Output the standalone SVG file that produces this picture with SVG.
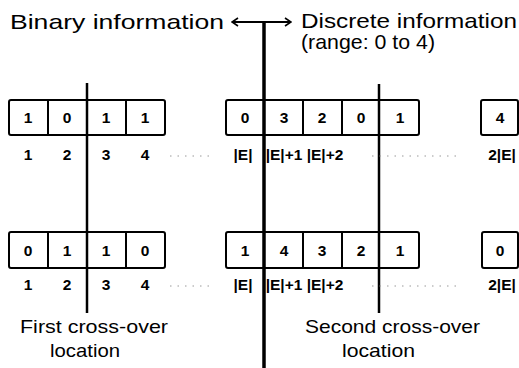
<svg xmlns="http://www.w3.org/2000/svg" width="519" height="368" viewBox="0 0 519 368">
<style>
.t{font-family:"Liberation Sans",Arial,sans-serif;fill:#000}
.big{font-size:21px}
.bot{font-size:18.5px}
.d{font-size:15.5px;font-weight:bold;text-anchor:middle}
.box{fill:#fff;stroke:#000;stroke-width:2}
.div{stroke:#000;stroke-width:2}
.ln{stroke:#000;fill:none}
.dot{stroke:#999;stroke-width:1;stroke-dasharray:1.5 6}
</style>
<defs>
<marker id="ah" viewBox="0 0 10 10" refX="9" refY="5" markerWidth="10" markerHeight="10" markerUnits="userSpaceOnUse" orient="auto-start-reverse">
<polyline points="3,1 9,5 3,9" fill="none" stroke="#000" stroke-width="1.6"/>
</marker>
</defs>
<g id="titles">
<text class="t big" x="10" y="29" textLength="214" lengthAdjust="spacingAndGlyphs">Binary information</text>
<text class="t big" x="301" y="28" textLength="216" lengthAdjust="spacingAndGlyphs">Discrete information</text>
<text class="t big" x="301" y="49" textLength="134" lengthAdjust="spacingAndGlyphs">(range: 0 to 4)</text>
</g>
<g id="row1-binary">
<rect class="box" x="9" y="100" width="156" height="35" rx="2"/>
<line class="div" x1="48" y1="100" x2="48" y2="135"/>
<line class="div" x1="126" y1="100" x2="126" y2="135"/>
<text class="t d" x="28" y="123">1</text><text class="t d" x="67" y="123">0</text><text class="t d" x="106" y="123">1</text><text class="t d" x="145" y="123">1</text>
<text class="t d" x="28" y="160">1</text><text class="t d" x="67" y="160">2</text><text class="t d" x="106" y="160">3</text><text class="t d" x="145" y="160">4</text>
</g>
<g id="row1-discrete">
<rect class="box" x="226" y="100" width="193" height="35" rx="2"/>
<line class="div" x1="303" y1="100" x2="303" y2="135"/>
<line class="div" x1="342" y1="100" x2="342" y2="135"/>
<text class="t d" x="245" y="123">0</text><text class="t d" x="284" y="123">3</text><text class="t d" x="322" y="123">2</text><text class="t d" x="361" y="123">0</text><text class="t d" x="400" y="123">1</text>
<text class="t d" x="243" y="160">|E|</text><text class="t d" x="284" y="160">|E|+1</text><text class="t d" x="325" y="160">|E|+2</text>
</g>
<g id="row1-last">
<rect class="box" x="481" y="100" width="37" height="35" rx="2"/>
<text class="t d" x="500" y="123">4</text>
<text class="t d" x="502" y="160">2|E|</text>
</g>
<g id="row2-binary">
<rect class="box" x="9" y="232" width="156" height="36" rx="2"/>
<line class="div" x1="48" y1="232" x2="48" y2="268"/>
<line class="div" x1="126" y1="232" x2="126" y2="268"/>
<text class="t d" x="28" y="256">0</text><text class="t d" x="67" y="256">1</text><text class="t d" x="106" y="256">1</text><text class="t d" x="145" y="256">0</text>
<text class="t d" x="28" y="290">1</text><text class="t d" x="67" y="290">2</text><text class="t d" x="106" y="290">3</text><text class="t d" x="145" y="290">4</text>
</g>
<g id="row2-discrete">
<rect class="box" x="226" y="232" width="193" height="36" rx="2"/>
<line class="div" x1="303" y1="232" x2="303" y2="268"/>
<line class="div" x1="342" y1="232" x2="342" y2="268"/>
<text class="t d" x="245" y="256">1</text><text class="t d" x="284" y="256">4</text><text class="t d" x="322" y="256">3</text><text class="t d" x="361" y="256">2</text><text class="t d" x="400" y="256">1</text>
<text class="t d" x="243" y="290">|E|</text><text class="t d" x="284" y="290">|E|+1</text><text class="t d" x="325" y="290">|E|+2</text>
</g>
<g id="row2-last">
<rect class="box" x="482" y="232" width="36" height="36" rx="2"/>
<text class="t d" x="500" y="256">0</text>
<text class="t d" x="502" y="290">2|E|</text>
</g>
<g id="captions">
<text class="t bot" x="20" y="333" textLength="148" lengthAdjust="spacingAndGlyphs">First cross-over</text>
<text class="t bot" x="50" y="357" textLength="70" lengthAdjust="spacingAndGlyphs">location</text>
<text class="t bot" x="305" y="333" textLength="175" lengthAdjust="spacingAndGlyphs">Second cross-over</text>
<text class="t bot" x="342" y="357" textLength="73" lengthAdjust="spacingAndGlyphs">location</text>
</g>
<g id="connectors">
<line class="ln" x1="264" y1="22" x2="232" y2="22" stroke-width="2" marker-end="url(#ah)"/>
<line class="ln" x1="264" y1="22" x2="291" y2="22" stroke-width="2" marker-end="url(#ah)"/>
<line class="ln" x1="264" y1="21" x2="264" y2="368" stroke-width="3.5"/>
<line class="ln" x1="87" y1="83" x2="87" y2="313" stroke-width="2.5"/>
<line class="ln" x1="379" y1="84" x2="379" y2="313" stroke-width="2.5"/>
<line class="dot" x1="170" y1="156" x2="212" y2="156"/>
<line class="dot" x1="372" y1="156" x2="462" y2="156"/>
<line class="dot" x1="170" y1="286" x2="212" y2="286"/>
<line class="dot" x1="372" y1="286" x2="462" y2="286"/>
</g>
</svg>
